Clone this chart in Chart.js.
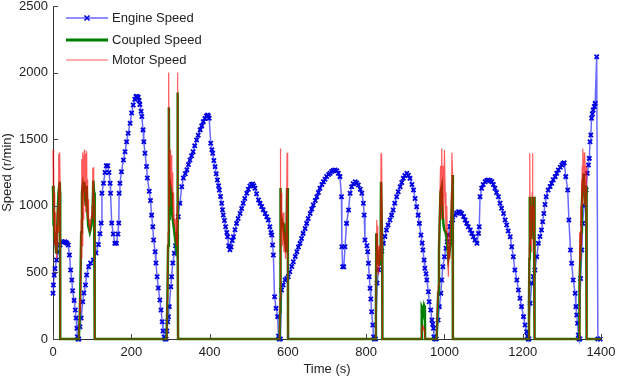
<!DOCTYPE html>
<html lang="en">
  <head>
    <meta charset="utf-8" />
    <script src="https://cdn.jsdelivr.net/npm/chart.js@4"></script>
    <title>Speed</title>
    <style>
      body { margin: 0; background: #fff; }
    </style>
  </head>
  <body>
    <canvas id="chart" width="617" height="388"></canvas>
    <script>
      // [time s, speed r/min]
      const engineSpeed = [
        [0,343],[1,405],[3,480],[5,530],[9,593],[14,655],[18,705],[22,730],[26,728],[30,730],[33,725],[36,718],[39,705],[42,630],[45,518],[48,443],[50,363],[54,290],[57,218],[59,158],[61,80],[62,17],[64,0],[66,0],
        [69,92],[72,158],[76,280],[79,345],[83,405],[86,480],[91,543],[96,570],[103,593],[110,645],[116,710],[120,790],[123,870],[125,1095],[129,1170],[133,1250],[136,1300],[140,1300],[143,1250],[146,1170],[147,1095],[150,870],[154,788],[158,718],[162,718],[166,788],[168,870],[169,1095],[171,1170],[175,1255],
        [180,1344],[184,1406],[188,1480],[192,1545],[197,1620],[201,1697],[205,1757],[209,1800],[212,1820],[215,1820],[218,1815],[220,1790],[222,1760],[225,1710],[227,1670],[230,1570],[232,1480],[235,1395],[239,1295],[241,1208],[246,1110],[249,1040],[252,930],[255,843],[257,743],[261,655],[263,570],[266,468],[269,383],[273,293],[276,218],[279,130],[281,60],[284,15],[286,0],[289,0],
        [291,60],[293,130],[295,167],[297,243],[301,393],[303,468],[306,570],[310,643],[313,700],[316,768],[320,918],[324,1020],[329,1143],[333,1208],[338,1240],[342,1270],[346,1310],[350,1344],[354,1375],[358,1406],[362,1450],[367,1494],[371,1530],[376,1570],[380,1600],[384,1632],[388,1655],[392,1675],[395,1682],[397,1675],[399,1657],
        [403,1470],[406,1420],[408,1394],[411,1340],[414,1294],[417,1240],[420,1194],[423,1150],[425,1119],[428,1070],[431,1019],[433,970],[435,931],[438,890],[441,843],[444,800],[446,768],[449,700],[452,670],[455,690],[458,740],[461,768],[465,820],[469,868],[473,905],[478,943],[482,980],[486,1019],[490,1055],[495,1094],[499,1125],[503,1148],[507,1160],[510,1163],[513,1150],[516,1131],[520,1090],
        [525,1044],[529,1020],[533,994],[537,970],[542,943],[546,918],[550,893],[554,843],[557,800],[559,781],[561,706],[563,631],[566,318],[570,230],[574,168],[576,22],[578,0],[581,0],
        [584,368],[588,405],[593,443],[597,455],[601,468],[605,505],[610,545],[614,580],[619,620],[623,655],[627,690],[631,718],[635,755],[639,793],[644,830],[648,868],[652,905],[657,943],[661,975],[665,1006],[670,1040],[674,1068],[678,1100],[682,1131],[687,1160],[691,1181],[695,1200],[699,1220],[704,1235],[708,1245],[712,1258],[716,1265],[720,1268],[725,1264],[729,1245],[733,1219],
        [737,1068],[738,693],[740,543],[743,543],[746,693],[750,868],[755,968],[759,1094],[763,1143],[767,1165],[772,1181],[776,1172],[780,1156],[785,1125],[789,1094],[793,1019],[795,931],[797,743],[802,700],[804,655],[806,568],[808,468],[810,381],[812,300],[814,205],[817,105],[819,17],[821,0],[824,0],
        [828,420],[832,520],[836,600],[840,660],[844,718],[848,770],[852,818],[856,855],[861,893],[865,930],[869,968],[873,1020],[878,1068],[882,1105],[887,1143],[891,1175],[895,1206],[899,1228],[904,1244],[908,1230],[912,1206],[917,1160],[921,1119],[925,1055],[929,993],[933,930],[936,868],[940,781],[943,720],[945,668],[948,593],[950,531],[953,490],[955,443],[959,355],[961,280],[965,218],[968,143],[970,110],[972,80],[973,17],[975,0],[979,0],
        [984,143],[987,243],[991,343],[993,443],[996,543],[1000,618],[1004,681],[1007,730],[1010,781],[1014,843],[1018,870],[1021,893],[1027,931],[1031,945],[1036,956],[1040,952],[1044,943],[1049,920],[1053,893],[1057,868],[1061,843],[1066,818],[1070,793],[1074,768],[1078,743],[1083,718],[1087,793],[1089,843],
        [1091,1068],[1095,1131],[1099,1160],[1104,1181],[1108,1190],[1112,1194],[1117,1190],[1121,1181],[1125,1160],[1129,1131],[1133,1100],[1138,1068],[1142,1019],[1146,981],[1151,943],[1155,893],[1159,856],[1163,810],[1168,768],[1172,693],[1176,618],[1180,518],[1185,443],[1189,368],[1193,306],[1197,243],[1202,168],[1206,105],[1210,55],[1212,22],[1214,0],[1216,0],
        [1219,268],[1223,418],[1227,470],[1231,518],[1236,618],[1240,718],[1244,770],[1248,818],[1251,880],[1254,943],[1257,1010],[1260,1068],[1265,1119],[1270,1145],[1274,1169],[1278,1195],[1283,1219],[1287,1245],[1291,1269],[1296,1290],[1300,1306],[1303,1318],[1306,1324],
        [1310,1219],[1315,1119],[1318,893],[1322,668],[1325,568],[1329,443],[1334,343],[1336,243],[1338,180],[1340,118],[1342,30],[1344,0],[1346,0],
        [1348,455],[1351,668],[1353,868],[1357,1000],[1362,1119],[1365,1244],[1368,1306],[1370,1356],[1372,1481],[1374,1531],[1376,1657],[1378,1690],[1380,1719],[1383,1745],[1385,1769],[1389,2119],[1392,0],[1398,0]
      ];

      const coupledSpeed = [
        [0,1150],[1,850],[2,1100],[3,760],[4,800],[6,720],[8,650],[10,760],[12,950],[14,1100],[16,1150],[17,1180],[18,1100],[18.5,0],
        [66,0],[68,150],[70,400],[72,800],[74,1100],[76,1150],[78,1100],[80,1180],[82,1050],[84,1000],[86,1150],[88,950],[90,850],[94,800],[98,850],[101,950],[103,1190],[105,1100],[106.5,0],
        [290,0],[292,250],[294,700],[296,1740],[297,900],[298,1200],[300,1150],[302,1100],[304,950],[306,900],[308,850],[310,800],[314,700],[317,800],[318,1850],[319,800],[319.5,0],
        [579,0],[580,200],[580.5,1133],[582,800],[584,900],[586,870],[588,868],[590,800],[592,750],[594,700],[596,650],[598,1133],[600,700],[600.5,0],
        [824,0],[825,250],[826,793],[827,700],[829,650],[831,580],[833,560],[835,600],[837,700],[838,1181],[840,1181],[841,700],[841.5,0],
        [941,0],[942,243],[944,230],[946,200],[948,250],[950,230],[950.5,0],
        [980,0],[982,150],[984,350],[986,650],[988,900],[990,1100],[993,1143],[995,950],[998,850],[1000,818],[1003,800],[1006,750],[1010,600],[1013,650],[1016,750],[1019,1000],[1021,1231],[1021.5,0],
        [1215,0],[1216,255],[1217,600],[1218,1068],[1220,800],[1222,750],[1224,900],[1225,1068],[1227,850],[1229,800],[1230,1068],[1230.5,0],
        [1344,0],[1345,400],[1347,600],[1349,800],[1351,1000],[1353,1150],[1356,1244],[1358,1100],[1360,1000],[1362,1150],[1363,900],[1363.5,0],[1400,0]
      ];

      const motorSpeed = [
        [0,1420],[1,900],[2,1330],[3,800],[4,1100],[5,700],[6,950],[7,650],[8,800],[9,600],[10,850],[11,700],[12,1000],[13,800],[14,1200],[15,1390],[16,1050],[17,1400],[18,1180],[18.5,0],
        [66,0],[67,100],[68,300],[69,200],[70,500],[71,350],[72,900],[73,600],[74,1350],[75,700],[76,1400],[77,900],[78,1380],[79,1000],[80,1420],[81,1100],[82,1390],[83,950],[84,1300],[85,1050],[86,1410],[87,1000],[88,1200],[89,900],[90,1050],[91,850],[92,900],[94,800],[96,850],[98,900],[100,1000],[101,1280],[102,900],[103,1290],[104,1100],[106,1000],[106.5,0],
        [290,0],[291,100],[292,300],[293,500],[294,800],[295,1200],[296,2000],[297,1000],[298,1400],[299,1150],[300,1420],[301,1200],[302,1380],[303,1100],[304,1300],[305,1000],[306,1250],[307,900],[308,1100],[310,850],[312,900],[314,750],[316,700],[317,1000],[318,2000],[319,900],[319.5,0],
        [579,0],[580,300],[580.5,1431],[582,600],[583,1100],[584,800],[585,1000],[586,700],[588,950],[590,650],[592,800],[594,600],[596,700],[598,1399],[599,900],[600,700],[600.5,0],
        [824,0],[825,300],[826,793],[827,893],[828,600],[829,850],[830,500],[831,700],[832,480],[833,650],[834,550],[835,700],[836,600],[837,800],[838,1394],[839,900],[840,1394],[841,800],[841.5,0],
        [941,0],[943,90],[945,60],[947,90],[949,70],[950,0],
        [980,0],[982,200],[984,400],[986,700],[988,1000],[990,1300],[992,900],[993,1431],[995,1000],[997,1300],[998,900],[1000,1418],[1002,1100],[1004,800],[1006,1000],[1008,700],[1010,468],[1012,800],[1014,600],[1016,900],[1018,1100],[1019,1399],[1021,1231],[1021.5,0],
        [1215,0],[1216,255],[1217,700],[1218,1394],[1219,800],[1220,1000],[1221,700],[1222,900],[1223,650],[1224,1100],[1225,1394],[1226,900],[1227,1000],[1228,800],[1229,900],[1230,1068],[1230.5,0],
        [1344,0],[1345,543],[1346,800],[1347,600],[1348,1000],[1349,700],[1350,1200],[1351,900],[1352,1300],[1353,1431],[1354,1000],[1355,1350],[1356,1100],[1357,1400],[1358,1000],[1359,1394],[1360,1200],[1361,1100],[1362,1300],[1363,1000],[1363.5,0],[1400,0]
      ];

      const seriesNames = ['Engine Speed', 'Coupled Speed', 'Motor Speed'];
      const xTicks = [0, 200, 400, 600, 800, 1000, 1200, 1400];
      const yTicks = [0, 500, 1000, 1500, 2000, 2500];

      const FONT = 'Liberation Sans, Arial, sans-serif';
      const toXY = arr => arr.map(p => ({x: p[0], y: p[1]}));

      const engineLine = 'rgba(40, 40, 255, 0.7)';
      const engineMark = '#0000e0';
      const coupledColor = 'rgb(0, 128, 0)';
      const motorColor = 'rgba(255, 0, 0, 0.65)';

      // ticks drawn inside the plot, like the original figure
      const innerTicks = {
        id: 'innerTicks',
        afterDatasetsDraw(chart) {
          const {ctx, chartArea, scales} = chart;
          ctx.save();
          ctx.strokeStyle = '#444';
          ctx.lineWidth = 1;
          ctx.beginPath();
          xTicks.forEach(v => {
            const px = Math.round(scales.x.getPixelForValue(v)) + 0.5;
            ctx.moveTo(px, chartArea.bottom);
            ctx.lineTo(px, chartArea.bottom - 5);
          });
          yTicks.forEach(v => {
            const py = Math.round(scales.y.getPixelForValue(v)) + 0.5;
            ctx.moveTo(chartArea.left, py);
            ctx.lineTo(chartArea.left + 5, py);
          });
          ctx.stroke();
          ctx.restore();
        }
      };

      const boxLegend = {
        id: 'boxLegend',
        afterDraw(chart) {
          const ctx = chart.ctx;
          const x0 = 66, x1 = 108, rows = [18, 40, 60];
          ctx.save();
          // engine
          ctx.strokeStyle = engineLine; ctx.lineWidth = 1.5;
          ctx.beginPath(); ctx.moveTo(x0, rows[0]); ctx.lineTo(x1, rows[0]); ctx.stroke();
          ctx.strokeStyle = engineMark; ctx.lineWidth = 1.6;
          const cx = (x0 + x1) / 2, r = 2.5;
          ctx.beginPath();
          ctx.moveTo(cx - r, rows[0] - r); ctx.lineTo(cx + r, rows[0] + r);
          ctx.moveTo(cx + r, rows[0] - r); ctx.lineTo(cx - r, rows[0] + r);
          ctx.stroke();
          // coupled
          ctx.strokeStyle = coupledColor; ctx.lineWidth = 3;
          ctx.beginPath(); ctx.moveTo(x0, rows[1]); ctx.lineTo(x1, rows[1]); ctx.stroke();
          // motor
          ctx.strokeStyle = motorColor; ctx.lineWidth = 1;
          ctx.beginPath(); ctx.moveTo(x0, rows[2]); ctx.lineTo(x1, rows[2]); ctx.stroke();
          ctx.fillStyle = '#222';
          ctx.font = '13px ' + FONT;
          ctx.textBaseline = 'middle';
          seriesNames.forEach((name, i) => ctx.fillText(name, 112, rows[i]));
          ctx.restore();
        }
      };

      const ctx = document.getElementById('chart').getContext('2d');
      new Chart(ctx, {
        type: 'line',
        data: {
          datasets: [
            {
              label: seriesNames[0],
              data: toXY(engineSpeed),
              borderColor: engineLine,
              borderWidth: 1.5,
              pointStyle: 'crossRot',
              pointRadius: 3,
              pointBorderColor: engineMark,
              pointBorderWidth: 1.8,
              order: 3,
              clip: 6
            },
            {
              label: seriesNames[1],
              data: toXY(coupledSpeed),
              borderColor: coupledColor,
              borderWidth: 2.5,
              pointRadius: 0,
              order: 2,
              clip: 6
            },
            {
              label: seriesNames[2],
              data: toXY(motorSpeed),
              borderColor: motorColor,
              borderWidth: 1.2,
              pointRadius: 0,
              order: 1,
              clip: 6
            }
          ]
        },
        options: {
          responsive: false,
          animation: false,
          devicePixelRatio: 1,
          layout: { padding: { top: 6, right: 16, left: 0, bottom: 0 } },
          plugins: { legend: { display: false }, tooltip: { enabled: false } },
          scales: {
            x: {
              type: 'linear',
              min: 0, max: 1400,
              afterBuildTicks: s => { s.ticks = xTicks.map(v => ({value: v})); },
              afterFit: s => { s.height = 49; s.paddingLeft = 0; s.paddingRight = 0; },
              grid: { display: false, drawTicks: false },
              border: { display: true, color: '#333', width: 1 },
              ticks: { padding: 6, color: '#222', font: { family: FONT, size: 13 }, maxRotation: 0, callback: v => String(v) },
              title: { display: true, text: 'Time (s)', color: '#222', font: { family: FONT, size: 13 }, padding: { top: 0, bottom: 11 } }
            },
            y: {
              min: 0, max: 2500,
              afterBuildTicks: s => { s.ticks = yTicks.map(v => ({value: v})); },
              afterFit: s => { s.width = 53; s.paddingTop = 0; s.paddingBottom = 0; },
              grid: { display: false, drawTicks: false },
              border: { display: true, color: '#333', width: 1 },
              ticks: { padding: 5, color: '#222', font: { family: FONT, size: 13 }, callback: v => String(v) },
              title: { display: true, text: 'Speed (r/min)', color: '#222', font: { family: FONT, size: 13 }, padding: { top: 0, bottom: 0 } }
            }
          }
        },
        plugins: [innerTicks, boxLegend]
      });
    </script>
  </body>
</html>
